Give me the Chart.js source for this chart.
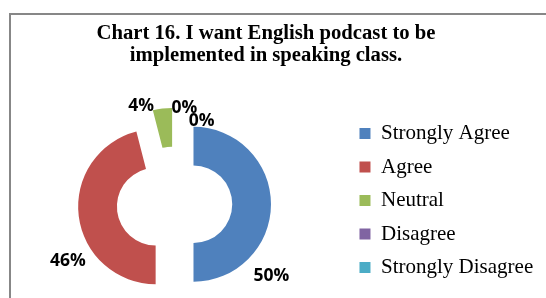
<!DOCTYPE html>
<html>
<head>
<meta charset="utf-8">
<script src="https://cdn.jsdelivr.net/npm/chart.js@4/dist/chart.umd.min.js"></script>
<style>
  html, body { margin: 0; padding: 0; background: #fff; overflow: hidden; }
  canvas { display: block; }
</style>
</head>
<body>
<canvas id="chart" width="546" height="298"></canvas>
<script>
const titleLines = ['Chart 16. I want English podcast to be', 'implemented in speaking class.'];
const answers = ['Strongly Agree', 'Agree', 'Neutral', 'Disagree', 'Strongly Disagree'];
const percents = [50, 46, 4, 0, 0];
const colors = ['#4F81BD', '#C0504D', '#9BBB59', '#8064A2', '#4BACC6'];

// white page, grey frame and the two-line title (centred on the frame, not on the canvas)
const framePlugin = {
    id: 'frame',
    beforeDraw(chart, args, opts) {
        const ctx = chart.ctx;
        ctx.save();
        ctx.fillStyle = '#fff';
        ctx.fillRect(0, 0, chart.width, chart.height);
        ctx.strokeStyle = '#878787';
        ctx.lineWidth = 2;
        ctx.strokeRect(10, 14, chart.width + 40, chart.height + 40);

        ctx.fillStyle = '#000';
        ctx.font = 'bold 20.7px "Liberation Serif", "Times New Roman", serif';
        ctx.textAlign = 'center';
        ctx.textBaseline = 'alphabetic';
        opts.lines.forEach((line, i) => {
            ctx.fillText(line, opts.x, opts.y + i * opts.lineHeight);
        });
        ctx.restore();
    }
};

// pull every slice out from the centre, keeping its radii (like Excel's exploded doughnut)
const explodePlugin = {
    id: 'explode',
    afterDatasetUpdate(chart, args, opts) {
        args.meta.data.forEach(arc => {
            const mid = (arc.startAngle + arc.endAngle) / 2;
            arc.x += Math.cos(mid) * opts.distance;
            arc.y += Math.sin(mid) * opts.distance;
        });
    }
};

// percentage labels, placed by angle (from 12 o'clock) and distance from the centre
const labelPlugin = {
    id: 'sliceLabels',
    afterDatasetsDraw(chart, args, opts) {
        const ctx = chart.ctx;
        const area = chart.chartArea;
        const cx = (area.left + area.right) / 2;
        const cy = (area.top + area.bottom) / 2;
        ctx.save();
        ctx.font = 'bold 17.5px "Open Sans", "Liberation Sans", sans-serif';
        ctx.fillStyle = '#000';
        ctx.textAlign = 'center';
        ctx.textBaseline = 'alphabetic';
        chart.data.datasets[0].data.forEach((v, i) => {
            const [deg, dist] = opts.anchors[i];
            const a = deg * Math.PI / 180;
            const x = cx + Math.sin(a) * dist;
            const y = cy - Math.cos(a) * dist;
            ctx.fillText(v + '%', x, y + 6.2);
        });
        ctx.restore();
    }
};

new Chart(document.getElementById('chart').getContext('2d'), {
    type: 'doughnut',
    data: {
        labels: answers,
        datasets: [{
            data: percents,
            backgroundColor: colors,
            borderWidth: 0,
            radius: 77.5
        }]
    },
    options: {
        responsive: false,
        animation: false,
        events: [],
        cutout: '50%',
        layout: {
            padding: { top: 110.5, left: 2, right: 2.8, bottom: 0 }
        },
        plugins: {
            tooltip: { enabled: false },
            title: { display: false },
            legend: {
                position: 'right',
                align: 'start',
                labels: {
                    boxWidth: 11,
                    boxHeight: 11,
                    padding: 12.5,
                    color: '#000',
                    font: {
                        family: '"Liberation Serif", "Times New Roman", serif',
                        size: 21
                    }
                }
            },
            frame: { lines: titleLines, x: 266, y: 39, lineHeight: 21.7 },
            explode: { distance: 19 },
            sliceLabels: {
                anchors: [[125.9, 119.7], [242.5, 120.1], [341.5, 105], [5.8, 98], [17.9, 88.3]]
            }
        }
    },
    plugins: [framePlugin, explodePlugin, labelPlugin]
});
</script>
</body>
</html>
